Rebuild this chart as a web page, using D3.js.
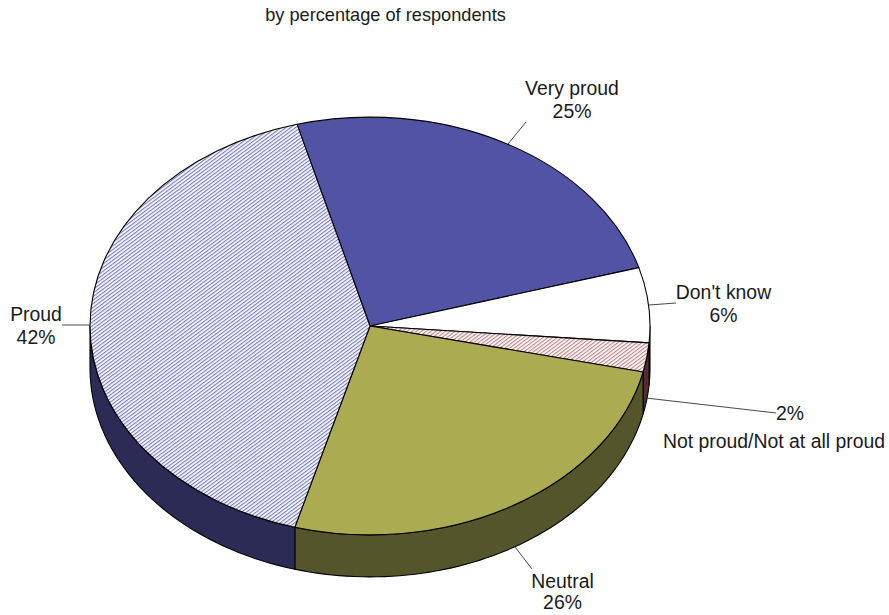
<!DOCTYPE html>
<html><head><meta charset="utf-8">
<style>html,body{margin:0;padding:0;background:#fff}svg{display:block}text{font-family:"Liberation Sans",Arial,sans-serif;fill:#1a1a1a}</style>
<script src="https://cdn.jsdelivr.net/npm/d3@7"></script>
</head><body>
<script>
const categories = ["Very proud","Don't know","Not proud/Not at all proud","Neutral","Proud"];
const values = [24.7,5.8,2.25,25.8,41.5];
const valueLabels = ["25%","6%","2%","26%","42%"];
const title = "by percentage of respondents";

const W=889,H=615,cx=370,cy=326,rx=280,tilt=0.746,depth=42,start=-15.1*Math.PI/180;
const topFill=["#5353a6","#ffffff","url(#hatchRed)","#abab52","url(#hatchBlue)"];
const wallFill=["#2c2b55","#ffffff","#5a2a30","#55552b","#2c2b55"];

const svg=d3.select("body").append("svg").attr("width",W).attr("height",H);
const defs=svg.append("defs");
function hatch(id,color,bg,sp,sw){
  const p=defs.append("pattern").attr("id",id).attr("width",sp).attr("height",sp)
    .attr("patternUnits","userSpaceOnUse").attr("patternTransform","rotate(45)");
  p.append("rect").attr("width",sp).attr("height",sp).attr("fill",bg);
  p.append("rect").attr("width",sw).attr("height",sp).attr("fill",color);
}
hatch("hatchBlue","#7b7bc2","#ffffff",3.4,1.4);
hatch("hatchRed","#c08585","#ffffff",3.4,1.4);

const pie=d3.pie().value(d=>d).sort(null).startAngle(start).endAngle(start+2*Math.PI);
const arcs=pie(values);
const ex=a=>cx+rx*Math.sin(a), ey=a=>cy-rx*tilt*Math.cos(a);

const line=d3.line();
const wall=svg.append("g");
arcs.forEach((d,i)=>{
  const lo=Math.PI/2, hi=3*Math.PI/2;
  const a0=Math.max(d.startAngle,lo), a1=Math.min(d.endAngle,hi);
  if(a1<=a0) return;
  const as=d3.range(0,61).map(k=>a0+(a1-a0)*k/60);
  const pts=as.map(a=>[ex(a),ey(a)]).concat(as.slice().reverse().map(a=>[ex(a),ey(a)+depth]));
  wall.append("path").attr("d",line(pts)+"Z").attr("fill",wallFill[i])
    .attr("stroke","#000").attr("stroke-width",1.1).attr("stroke-linejoin","round");
});

const arc=d3.arc().innerRadius(0).outerRadius(rx);
svg.append("g").attr("transform",`translate(${cx},${cy}) scale(1,${tilt})`)
  .selectAll("path").data(arcs).join("path")
  .attr("d",arc).attr("fill",(d,i)=>topFill[i])
  .attr("stroke","#000").attr("stroke-width",1.1).attr("stroke-linejoin","round")
  .attr("vector-effect","non-scaling-stroke");

const leaders=[[508,144,526,122],[649,305,676,303],[646,398,776,413],[515,547,532,569],[62,325,90,325]];
svg.append("g").selectAll("line").data(leaders).join("line")
  .attr("x1",d=>d[0]).attr("y1",d=>d[1]).attr("x2",d=>d[2]).attr("y2",d=>d[3])
  .attr("stroke","#333").attr("stroke-width",0.9);

const fs=19.4;
const place=[
 {i:0,x:572,y1:95,y2:118},
 {i:1,x:723.5,y1:299,y2:322},
 {i:3,x:562.5,y1:588,y2:609},
 {i:4,x:36,y1:321,y2:344}
];
const g=svg.append("g").attr("font-size",fs).attr("text-anchor","middle");
place.forEach(p=>{
  g.append("text").attr("x",p.x).attr("y",p.y1).text(categories[p.i]);
  g.append("text").attr("x",p.x).attr("y",p.y2).text(valueLabels[p.i]);
});
g.append("text").attr("x",790).attr("y",420).text(valueLabels[2]);
g.append("text").attr("x",774).attr("y",448).text(categories[2]);
svg.append("text").attr("x",385.5).attr("y",21).attr("text-anchor","middle").attr("font-size",18.2).text(title);
</script>
</body></html>
